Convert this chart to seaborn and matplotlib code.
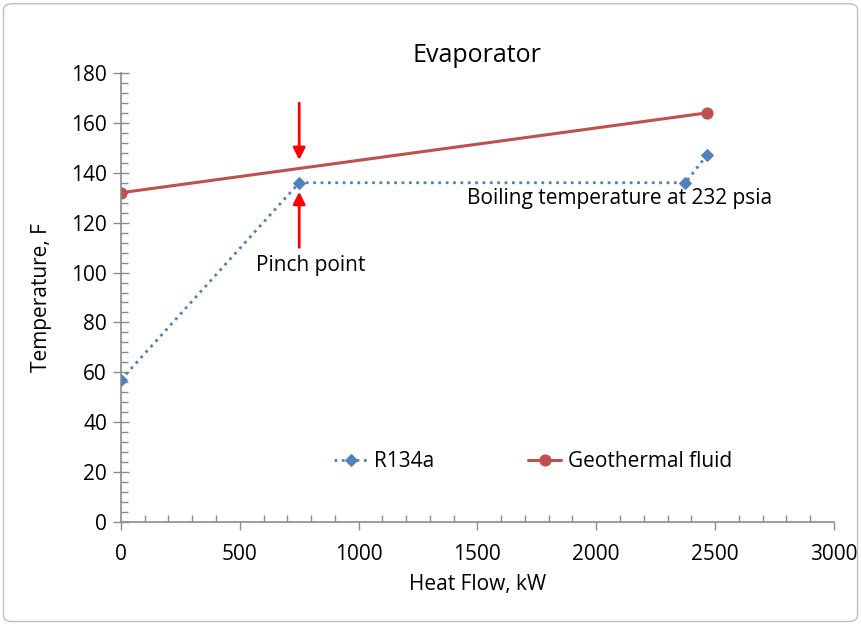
import matplotlib
matplotlib.use('Agg')
import matplotlib.pyplot as plt
import seaborn as sns
import pandas as pd
from matplotlib.patches import FancyBboxPatch
from matplotlib.ticker import MultipleLocator

# donnees
r134a_q = [0, 750, 2375, 2465]
r134a_t = [57, 136, 136, 147]
geo_q = [0, 2465]
geo_t = [132, 164]

blue = '#4F81BD'
red = '#C0504D'
gray = '#8C8C8C'

sns.set_theme(style='white')
plt.rcParams['font.family'] = ['Open Sans', 'DejaVu Sans']
plt.rcParams['text.color'] = 'black'
plt.rcParams['axes.labelcolor'] = 'black'

df_r = pd.DataFrame({'q': r134a_q, 't': r134a_t})
df_g = pd.DataFrame({'q': geo_q, 't': geo_t})

fig = plt.figure(figsize=(8.61, 6.24), dpi=100)
ax = fig.add_axes([0.1405, 0.1635, 0.828, 0.7195])

sns.lineplot(data=df_r, x='q', y='t', sort=False, ax=ax, color=blue, linestyle=':',
             linewidth=2, marker='D', markersize=6, markeredgecolor=blue, label='R134a')
sns.lineplot(data=df_g, x='q', y='t', sort=False, ax=ax, color=red, linestyle='-',
             linewidth=2.2, marker='o', markersize=8, markeredgecolor=red, label='Geothermal fluid')

ax.set_xlim(0, 3000)
ax.set_ylim(0, 180)
ax.xaxis.set_major_locator(MultipleLocator(500))
ax.xaxis.set_minor_locator(MultipleLocator(100))
ax.yaxis.set_major_locator(MultipleLocator(20))
ax.yaxis.set_minor_locator(MultipleLocator(4))

for s in ['top', 'right']:
    ax.spines[s].set_visible(False)
for s in ['left', 'bottom']:
    ax.spines[s].set_color(gray)
    ax.spines[s].set_linewidth(1.2)

ax.tick_params(which='both', bottom=True, left=True, top=False, right=False)
ax.tick_params(axis='y', which='major', direction='inout', length=12, width=1, color=gray,
               labelsize=15, labelcolor='black', pad=4)
ax.tick_params(axis='y', which='minor', direction='in', length=5, width=1, color=gray)
ax.tick_params(axis='x', which='major', direction='out', length=6, width=1, color=gray,
               labelsize=15, labelcolor='black', pad=10)
ax.tick_params(axis='x', which='minor', direction='in', length=5, width=1, color=gray)

ax.set_xlabel('Heat Flow, kW', fontsize=15, labelpad=6)
ax.set_ylabel('Temperature, F', fontsize=15, labelpad=14)
ax.set_title('Evaporator', fontsize=18, pad=8)

# fleches pinch point
ax.annotate('', xy=(750, 144), xytext=(750, 169),
            arrowprops=dict(arrowstyle='-|>', color='red', lw=2, mutation_scale=18))
ax.annotate('', xy=(750, 133.5), xytext=(750, 109),
            arrowprops=dict(arrowstyle='-|>', color='red', lw=2, mutation_scale=18))
ax.text(800, 103, 'Pinch point', ha='center', va='center', fontsize=15)
ax.text(2100, 129.5, 'Boiling temperature at 232 psia', ha='center', va='center', fontsize=15)

leg = ax.legend(loc='center', bbox_to_anchor=(0.578, 0.135), ncol=2, frameon=False,
                fontsize=15, handlelength=1.6, columnspacing=4.5, handletextpad=0.3)

fig.patches.append(FancyBboxPatch((0.004, 0.004), 0.992, 0.99, boxstyle='round,pad=0,rounding_size=0.01',
                                  transform=fig.transFigure, fill=False, edgecolor='#BFBFBF', linewidth=1))

fig.savefig('out.png', dpi=100)
